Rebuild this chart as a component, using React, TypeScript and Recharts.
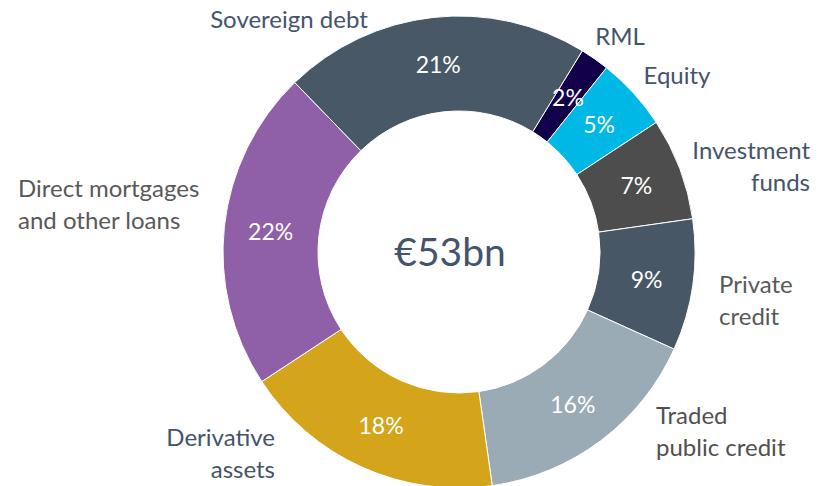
import React from 'react';
import { PieChart, Pie, Cell } from 'recharts';

const categories = [
  'RML',
  'Equity',
  'Investment funds',
  'Private credit',
  'Traded public credit',
  'Derivative assets',
  'Direct mortgages and other loans',
  'Sovereign debt',
];
const shares = [2, 5, 7, 9, 16, 18, 22, 21];
const totalLabel = '€53bn';

const colors = ['#12004a', '#00b8e6', '#4d4d4d', '#475766', '#9aabb5', '#d4a41a', '#8f5fa7', '#485866'];

// outer label lines and placement relative to the donut centre
const labelLayout: { lines: string[]; dx: number; dy: number; anchor: 'start' | 'middle' | 'end'; color: string }[] = [
  { lines: ['RML'], dx: 161, dy: -217, anchor: 'middle', color: '#44546a' },
  { lines: ['Equity'], dx: 218, dy: -178, anchor: 'middle', color: '#44546a' },
  { lines: ['Investment', 'funds'], dx: 351, dy: -103, anchor: 'end', color: '#44546a' },
  { lines: ['Private', 'credit'], dx: 260, dy: 31, anchor: 'start', color: '#595959' },
  { lines: ['Traded', 'public credit'], dx: 197, dy: 162, anchor: 'start', color: '#505050' },
  { lines: ['Derivative', 'assets'], dx: -184, dy: 184, anchor: 'end', color: '#44546a' },
  { lines: ['Direct mortgages', 'and other loans'], dx: -441, dy: -65, anchor: 'start', color: '#595959' },
  { lines: ['Sovereign debt'], dx: -170, dy: -234, anchor: 'middle', color: '#44546a' },
];

const data = categories.map((name, i) => ({ name, value: shares[i] }));

const RAD = Math.PI / 180;
const FONT = 'Lato, "Open Sans", sans-serif';

const renderLabel = (props: any) => {
  const { cx, cy, midAngle, innerRadius, outerRadius, index, value } = props;
  const r = (innerRadius + outerRadius) / 2 + 1;
  const x = cx + r * Math.cos(-midAngle * RAD);
  const y = cy + r * Math.sin(-midAngle * RAD);
  const lay = labelLayout[index];
  return (
    <g>
      <text x={x} y={y} fill="#ffffff" fontSize={23} fontFamily={FONT} textAnchor="middle" dominantBaseline="central">
        {value}%
      </text>
      <text x={cx + lay.dx} y={cy + lay.dy} fill={lay.color} fontSize={24} fontFamily={FONT} textAnchor={lay.anchor}>
        {lay.lines.map((line, k) => (
          <tspan key={k} x={cx + lay.dx} y={cy + lay.dy + k * 32} dominantBaseline="central">
            {line}
          </tspan>
        ))}
      </text>
    </g>
  );
};

export default function App() {
  return (
    <div style={{ position: 'absolute', left: 0, top: 0, width: 830, height: 486, background: '#ffffff' }}>
      <PieChart width={830} height={486} margin={{ top: 0, right: 0, bottom: 0, left: 0 }}>
        <Pie
          data={data}
          dataKey="value"
          nameKey="name"
          cx={459}
          cy={252}
          innerRadius={141}
          outerRadius={236}
          startAngle={58.5}
          endAngle={-301.5}
          stroke="#ffffff"
          strokeWidth={1}
          label={renderLabel}
          labelLine={false}
          isAnimationActive={false}
        >
          {data.map((d, i) => (
            <Cell key={d.name} fill={colors[i]} />
          ))}
        </Pie>
        <text x={450} y={251} textAnchor="middle" dominantBaseline="central" fill="#44546a" fontSize={39} fontFamily={FONT}>
          {totalLabel}
        </text>
      </PieChart>
    </div>
  );
}
